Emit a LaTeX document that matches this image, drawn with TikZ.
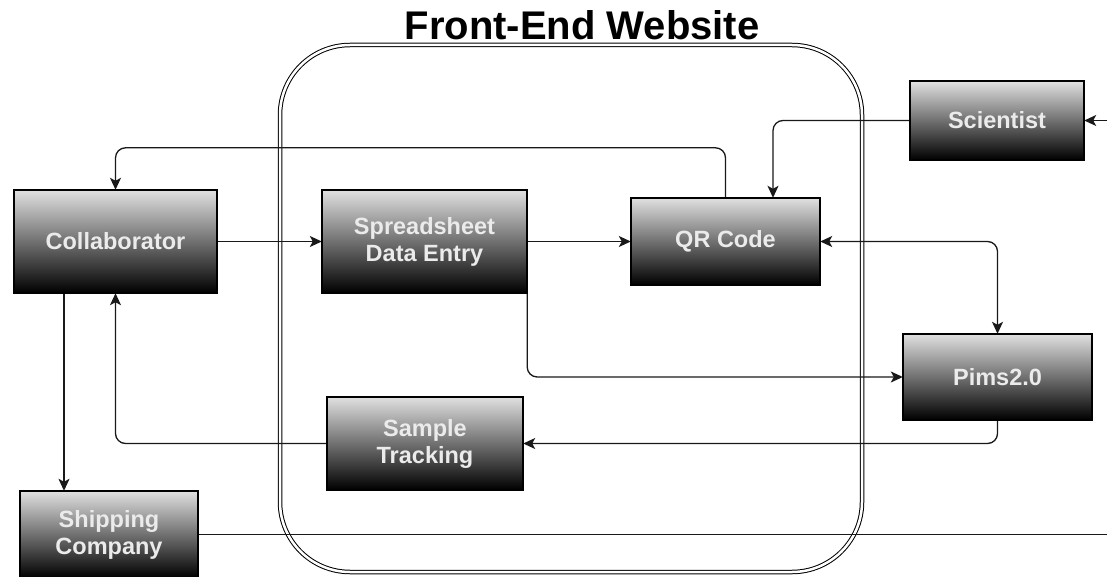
\documentclass[tikz,border=0pt]{standalone}
\usepackage{fontspec}
\setmainfont{Liberation Sans}
\usetikzlibrary{arrows.meta}
\begin{document}
\begin{tikzpicture}[x=1pt,y=-1pt,
  blk/.style={draw=black, line width=2.6pt, top color=white!88!black, bottom color=black,
    text=white!92!black, font=\bfseries\fontsize{23.5}{27}\selectfont, align=center, inner sep=0pt},
  conn/.style={line width=1.3pt, rounded corners=10pt, draw=black!90},
  arr/.style={conn, -{Stealth[length=12pt,width=11pt,inset=3pt]}},
  arrb/.style={conn, {Stealth[length=12pt,width=11pt,inset=3pt]}-{Stealth[length=12pt,width=11pt,inset=3pt]}}]
\useasboundingbox (0,0) rectangle (1107,577);
\fill[white] (0,0) rectangle (1107,577);
\node (title) at (582,25) {\bfseries\fontsize{40}{44}\selectfont Front-End Website};
\node (web) at (571,308.5) [draw=black, double, double distance=2.5pt, line width=1pt,
  rounded corners=70pt, minimum width=582pt, minimum height=527pt] {};
\coordinate (rin) at (1107,120.5);
\coordinate (rout) at (1107,534.5);
\begin{scope}
\node (col) at (115.5,241.5) [minimum width=203pt, minimum height=103pt] {};
\node (sde) at (424.5,241.5) [minimum width=205pt, minimum height=103pt] {};
\node (qr) at (725.5,241.5) [minimum width=189pt, minimum height=87pt] {};
\node (sci) at (997,120.5) [minimum width=174pt, minimum height=79pt] {};
\node (pims) at (997.5,377) [minimum width=189pt, minimum height=86pt] {};
\node (st) at (425,443.5) [minimum width=196pt, minimum height=93pt] {};
\node (ship) at (109,534.5) [minimum width=178pt, minimum height=87pt] {};
\end{scope}
\coordinate (c1) at ([xshift=-51.5pt]col.south);
\coordinate (c2) at ([xshift=47.5pt]qr.north);
\draw[arr] (col.east) -- (sde.west);
\draw[arr] (sde.east) -- (qr.west);
\draw[arr] (qr.north) -- ++(0,-50) -| (col.north);
\draw[arr] (sci.west) -| (c2);
\draw[arr] (rin) -- (sci.east);
\draw[arrb] (qr.east) -| (pims.north);
\draw[arr] (sde.south east) |- (pims.west);
\draw[arr] (pims.south) |- (st.east);
\draw[arr] (st.west) -| (col.south);
\draw[arr] (c1) -- (c1 |- ship.north);
\draw[conn] (ship.east) -- (rout);
\node[blk, minimum width=203pt, minimum height=103pt] at (col) {Collaborator};
\node[blk, minimum width=205pt, minimum height=103pt] at (sde) {Spreadsheet\\Data Entry};
\node[blk, minimum width=189pt, minimum height=87pt] at (qr) {QR Code};
\node[blk, minimum width=174pt, minimum height=79pt] at (sci) {Scientist};
\node[blk, minimum width=189pt, minimum height=86pt] at (pims) {Pims2.0};
\node[blk, minimum width=196pt, minimum height=93pt] at (st) {Sample\\Tracking};
\node[blk, minimum width=178pt, minimum height=87pt] at (ship) {Shipping\\Company};
\end{tikzpicture}
\end{document}
